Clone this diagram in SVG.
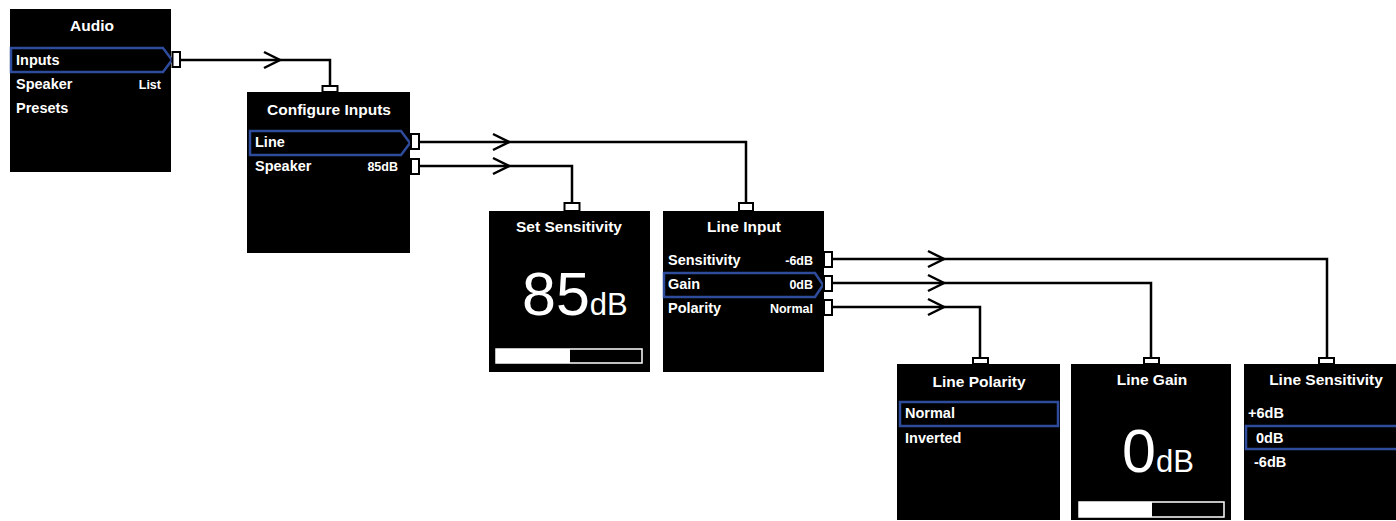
<svg xmlns="http://www.w3.org/2000/svg" width="1396" height="521" viewBox="0 0 1396 521">
<style>
.box{fill:#000}
.t{font-family:"Liberation Sans",Arial,sans-serif;font-weight:bold;fill:#fff}
.title{font-size:15.5px;text-anchor:middle}
.item{font-size:14.5px}
.val{font-size:12.5px;text-anchor:end}
.big{font-family:"Liberation Sans",Arial,sans-serif;fill:#fff;font-size:61px}
.sel{fill:none;stroke:#2f4b9b;stroke-width:2.5}
.port{fill:#fff;stroke:#000;stroke-width:2}
.wire{fill:none;stroke:#000;stroke-width:2.5}
.bar{fill:none;stroke:#fff;stroke-width:1.5}
</style>
<g id="connectors">
<path class="wire" d="M180,60 H330 V86"/>
<path class="wire" d="M264,52 L280,60 L264,68"/>
<path class="wire" d="M419,142 H746 V203"/>
<path class="wire" d="M493,134 L509,142 L493,150"/>
<path class="wire" d="M419,166 H572 V203"/>
<path class="wire" d="M493,158 L509,166 L493,174"/>
<path class="wire" d="M832,259 H1327 V358"/>
<path class="wire" d="M928,251 L944,259 L928,267"/>
<path class="wire" d="M832,283 H1151 V358"/>
<path class="wire" d="M928,275 L944,283 L928,291"/>
<path class="wire" d="M832,307 H980 V358"/>
<path class="wire" d="M928,299 L944,307 L928,315"/>
</g>
<g id="audio">
<rect class="box" x="10" y="9" width="161" height="163"/>
<text class="t title" x="92" y="31">Audio</text>
<polygon class="sel" points="11,48 163,48 172,60 163,72 11,72"/>
<text class="t item" x="16" y="65">Inputs</text>
<text class="t item" x="16" y="89">Speaker</text>
<text class="t val" x="161" y="89">List</text>
<text class="t item" x="16" y="113">Presets</text>
<rect class="port" x="172.5" y="52" width="7.5" height="15"/>
</g>
<g id="configure-inputs">
<rect class="box" x="247" y="92" width="163" height="161"/>
<text class="t title" x="329" y="115">Configure Inputs</text>
<polygon class="sel" points="250,131 401,131 410,143 401,155 250,155"/>
<text class="t item" x="255" y="147">Line</text>
<text class="t item" x="255" y="171">Speaker</text>
<text class="t val" x="398" y="171">85dB</text>
<rect class="port" x="322.5" y="86" width="15" height="6"/>
<rect class="port" x="411" y="134" width="8" height="15"/>
<rect class="port" x="411" y="159" width="8" height="15"/>
</g>
<g id="set-sensitivity">
<rect class="box" x="489" y="211" width="161" height="161"/>
<text class="t title" x="569" y="232">Set Sensitivity</text>
<text class="big" x="522" y="315">85<tspan font-size="31">dB</tspan></text>
<rect x="496" y="349" width="74" height="14" fill="#fff"/>
<rect class="bar" x="496" y="349" width="146" height="14"/>
<rect class="port" x="564.5" y="203" width="15" height="8"/>
</g>
<g id="line-input">
<rect class="box" x="663" y="211" width="161" height="161"/>
<text class="t title" x="744" y="232">Line Input</text>
<text class="t item" x="668" y="265">Sensitivity</text>
<text class="t val" x="813" y="265">-6dB</text>
<polygon class="sel" points="664,273 815,273 823,285 815,297 664,297"/>
<text class="t item" x="668" y="289">Gain</text>
<text class="t val" x="813" y="289">0dB</text>
<text class="t item" x="668" y="313">Polarity</text>
<text class="t val" x="813" y="313">Normal</text>
<rect class="port" x="739" y="203" width="14" height="8"/>
<rect class="port" x="824" y="252" width="8" height="15"/>
<rect class="port" x="824" y="276" width="8" height="15"/>
<rect class="port" x="824" y="300" width="8" height="15"/>
</g>
<g id="line-polarity">
<rect class="box" x="897" y="364" width="163" height="156"/>
<text class="t title" x="979" y="387">Line Polarity</text>
<rect class="sel" x="900" y="402" width="158" height="24"/>
<text class="t item" x="905" y="418">Normal</text>
<text class="t item" x="905" y="443">Inverted</text>
<rect class="port" x="973" y="358" width="15" height="6"/>
</g>
<g id="line-gain">
<rect class="box" x="1071" y="364" width="160" height="156"/>
<text class="t title" x="1152" y="385">Line Gain</text>
<text class="big" x="1122" y="472">0<tspan font-size="31">dB</tspan></text>
<rect x="1079" y="502" width="73" height="15" fill="#fff"/>
<rect class="bar" x="1079" y="502" width="145" height="15"/>
<rect class="port" x="1144" y="358" width="15" height="6"/>
</g>
<g id="line-sensitivity">
<rect class="box" x="1244" y="364" width="163" height="156"/>
<text class="t title" x="1326" y="385">Line Sensitivity</text>
<text class="t item" x="1248" y="418">+6dB</text>
<rect class="sel" x="1246" y="426" width="156" height="23"/>
<text class="t item" x="1256" y="443">0dB</text>
<text class="t item" x="1254" y="467">-6dB</text>
<rect class="port" x="1319" y="358" width="15" height="6"/>
</g>
</svg>
